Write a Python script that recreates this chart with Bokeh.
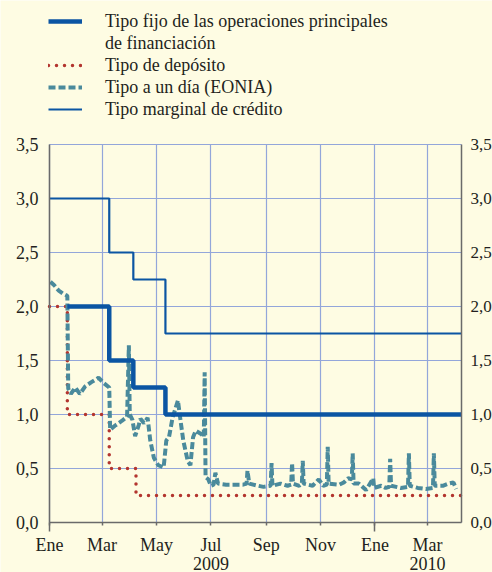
import pandas as pd
from bokeh.plotting import figure
from bokeh.models import (FixedTicker, LinearAxis, Legend, LegendItem, LabelSet,
                          ColumnDataSource, Range1d)
from bokeh.embed import file_html
from bokeh.resources import INLINE

# ---------------- data ----------------
x_start = "2009-01-01"
x_end = "2010-04-08"

tick_dates = ["2009-01-01", "2009-03-01", "2009-05-01", "2009-07-01",
              "2009-09-01", "2009-11-01", "2010-01-01", "2010-03-01"]
tick_labels = ["Ene", "Mar", "May", "Jul", "Sep", "Nov", "Ene", "Mar"]
year_dates = ["2009-01-01", "2010-01-01"]
year_label_dates = ["2009-07-01", "2010-03-01"]
year_labels = ["2009", "2010"]

y_ticks = [0.0, 0.5, 1.0, 1.5, 2.0, 2.5, 3.0, 3.5]
y_tick_labels = ["0,0", "0,5", "1,0", "1,5", "2,0", "2,5", "3,0", "3,5"]

mro_dates = ["2009-01-21", "2009-03-09", "2009-04-05", "2009-05-11", "2010-04-08"]
mro_vals = [2.0, 1.5, 1.25, 1.0, 1.0]

dep_dates = ["2009-01-01", "2009-01-21", "2009-03-09", "2009-04-08", "2010-04-08"]
dep_vals = [2.0, 1.0, 0.5, 0.25, 0.25]

mlf_dates = ["2009-01-01", "2009-03-09", "2009-04-05", "2009-05-11", "2010-04-08"]
mlf_vals = [3.0, 2.5, 2.25, 1.75, 1.75]

eonia_dates = [
    "2009-01-02", "2009-01-06", "2009-01-11", "2009-01-16", "2009-01-21", "2009-01-22",
    "2009-01-25", "2009-01-30", "2009-02-04", "2009-02-10", "2009-02-17", "2009-02-25",
    "2009-03-03", "2009-03-09", "2009-03-10", "2009-03-16", "2009-03-23", "2009-03-29",
    "2009-03-31", "2009-04-01", "2009-04-04", "2009-04-07", "2009-04-11", "2009-04-13",
    "2009-04-17", "2009-04-21", "2009-04-24", "2009-04-28", "2009-05-03", "2009-05-09",
    "2009-05-12", "2009-05-15", "2009-05-19", "2009-05-25", "2009-05-28", "2009-05-31",
    "2009-06-05", "2009-06-08", "2009-06-11", "2009-06-14", "2009-06-20", "2009-06-23",
    "2009-06-24", "2009-06-25", "2009-06-28", "2009-07-01", "2009-07-04", "2009-07-06",
    "2009-07-09", "2009-07-18", "2009-07-27", "2009-08-06", "2009-08-10", "2009-08-11",
    "2009-08-13", "2009-08-23", "2009-08-29", "2009-09-06", "2009-09-07", "2009-09-08",
    "2009-09-17", "2009-09-25", "2009-09-29", "2009-09-30", "2009-10-01", "2009-10-08",
    "2009-10-11", "2009-10-12", "2009-10-13", "2009-10-23", "2009-10-30", "2009-11-04",
    "2009-11-08", "2009-11-09", "2009-11-10", "2009-11-22", "2009-11-27", "2009-12-02",
    "2009-12-06", "2009-12-07", "2009-12-08", "2009-12-14", "2009-12-22", "2009-12-30",
    "2009-12-31", "2010-01-08", "2010-01-13", "2010-01-17", "2010-01-18", "2010-01-19",
    "2010-01-30", "2010-02-07", "2010-02-08", "2010-02-09", "2010-02-18", "2010-02-27",
    "2010-03-07", "2010-03-08", "2010-03-09", "2010-03-18", "2010-03-24", "2010-03-30",
    "2010-04-02",
]
eonia_vals = [
    2.23, 2.20, 2.15, 2.12, 2.10, 1.24,
    1.19, 1.25, 1.19, 1.26, 1.30, 1.34,
    1.29, 1.25, 0.86, 0.90, 0.94, 0.98,
    1.64, 1.00, 0.95, 0.80, 0.90, 0.96,
    0.92, 0.97, 0.76, 0.60, 0.53, 0.51,
    0.76, 0.79, 0.97, 1.13, 0.94, 0.76,
    0.57, 0.53, 0.79, 0.85, 0.82, 0.79,
    1.39, 0.42, 0.40, 0.34, 0.35, 0.46,
    0.36, 0.35, 0.35, 0.35, 0.36, 0.48,
    0.36, 0.34, 0.33, 0.34, 0.55, 0.34,
    0.36, 0.34, 0.35, 0.55, 0.36, 0.34,
    0.36, 0.57, 0.36, 0.34, 0.40, 0.34,
    0.35, 0.70, 0.36, 0.35, 0.37, 0.41,
    0.40, 0.64, 0.36, 0.36, 0.30, 0.41,
    0.32, 0.34, 0.32, 0.33, 0.59, 0.34,
    0.32, 0.33, 0.64, 0.34, 0.32, 0.31,
    0.32, 0.64, 0.34, 0.34, 0.36, 0.37,
    0.31,
]

# ---------------- styles / layout ----------------
BG = "#fefce3"
GRID = "#93a6da"
AXIS = "#6a6a6a"
TXT = "#231f20"
FONT = "Liberation Serif"
FS = "18px"
C_MRO = "#0b55a3"
C_DEP = "#b3352f"
C_EON = "#4a8a9c"

W, H = 492, 572
PLOT_L, PLOT_R, PLOT_T, PLOT_B = 49, 461, 144, 522   # pixel box of the chart area
YEAR_OFFSET = 47                                      # px below the x axis


def ms(d):
    return float(pd.Timestamp(d).value // 10**6)


def to_dt(lst):
    return pd.to_datetime(lst)


xs, xe = ms(x_start), ms(x_end)
ppx = (xe - xs) / (PLOT_R - PLOT_L)
y0, y1 = y_ticks[0], y_ticks[-1]
ppy = (y1 - y0) / (PLOT_B - PLOT_T)

p = figure(width=W, height=H, x_axis_type="datetime",
           x_range=Range1d(xs - PLOT_L * ppx, xe + (W - PLOT_R) * ppx),
           y_range=Range1d(y0 - (H - PLOT_B) * ppy, y1 + PLOT_T * ppy),
           output_backend="svg", toolbar_location=None,
           background_fill_color=BG, border_fill_color=BG,
           min_border_left=0, min_border_right=0,
           min_border_top=0, min_border_bottom=0)
p.outline_line_color = None
p.title.visible = False

# grid (limited to the chart box)
grid_ok = True
try:
    p.xgrid.cross_bounds = (y0, y1)
    p.ygrid.cross_bounds = (xs, xe)
except Exception:
    grid_ok = False

x_ticker = FixedTicker(ticks=[ms(d) for d in tick_dates],
                       minor_ticks=[ms(d) for d in year_dates])
y_ticker = FixedTicker(ticks=y_ticks, minor_ticks=[])

if grid_ok:
    p.xgrid.ticker = x_ticker
    p.ygrid.ticker = y_ticker
    p.xgrid.bounds = (xs, xe)
    p.ygrid.bounds = (y0, y1)
    for g in (p.xgrid[0], p.ygrid[0]):
        g.grid_line_color = GRID
        g.grid_line_width = 1.2
else:
    p.xgrid.visible = False
    p.ygrid.visible = False
    gx = to_dt(tick_dates)
    p.segment(x0=gx, y0=[y0] * len(gx), x1=gx, y1=[y1] * len(gx),
              line_color=GRID, line_width=1.2)
    p.segment(x0=[pd.Timestamp(x_start)] * len(y_ticks), y0=y_ticks,
              x1=[pd.Timestamp(x_end)] * len(y_ticks), y1=y_ticks,
              line_color=GRID, line_width=1.2)

# series
src_dep = ColumnDataSource(dict(x=to_dt(dep_dates), y=dep_vals))
src_eon = ColumnDataSource(dict(x=to_dt(eonia_dates), y=eonia_vals))
src_mlf = ColumnDataSource(dict(x=to_dt(mlf_dates), y=mlf_vals))
src_mro = ColumnDataSource(dict(x=to_dt(mro_dates), y=mro_vals))

r_dep = p.step("x", "y", source=src_dep, mode="after", line_color=C_DEP,
               line_width=3.5, line_dash="0 8", line_cap="round")
r_eon = p.line("x", "y", source=src_eon, line_color=C_EON, line_width=4,
               line_dash="7 3")
r_mlf = p.step("x", "y", source=src_mlf, mode="after", line_color=C_MRO,
               line_width=2.2)
r_mro = p.step("x", "y", source=src_mro, mode="after", line_color=C_MRO,
               line_width=4.5)
r_blank = p.step("x", "y", source=src_mro, mode="after", line_alpha=0)

# x axis
xa = p.xaxis[0]
xa.fixed_location = y0
xa.bounds = (xs, xe)
xa.ticker = x_ticker
xa.major_label_overrides = {ms(d): l for d, l in zip(tick_dates, tick_labels)}
xa.major_tick_out = 3
xa.major_tick_in = 0
xa.minor_tick_out = 9
xa.minor_tick_in = 0
xa.major_label_standoff = 3
xa.axis_line_color = AXIS
xa.axis_line_width = 1.5
xa.major_tick_line_color = AXIS
xa.minor_tick_line_color = AXIS
xa.major_tick_line_width = 1.5
xa.minor_tick_line_width = 1.5
xa.major_label_text_font = FONT
xa.major_label_text_font_size = FS
xa.major_label_text_color = TXT

# left y axis
ya = p.yaxis[0]
ya.fixed_location = xs
ya.bounds = (y0, y1)
ya.ticker = y_ticker
ya.major_label_overrides = {t: l for t, l in zip(y_ticks, y_tick_labels)}
ya.major_tick_out = 0
ya.major_tick_in = 0
ya.minor_tick_out = 0
ya.minor_tick_in = 0
ya.major_label_standoff = 11
ya.axis_line_color = AXIS
ya.axis_line_width = 1.5
ya.major_label_text_font = FONT
ya.major_label_text_font_size = FS
ya.major_label_text_color = TXT

# right y axis
ra = LinearAxis(ticker=y_ticker, fixed_location=xe, bounds=(y0, y1),
                major_label_overrides={t: l for t, l in zip(y_ticks, y_tick_labels)},
                major_tick_out=0, major_tick_in=0, minor_tick_out=0, minor_tick_in=0,
                major_label_standoff=9, axis_line_color=AXIS, axis_line_width=1.5,
                major_label_text_font=FONT, major_label_text_font_size="17px",
                major_label_text_color=TXT)
p.add_layout(ra, "right")

# year labels under the month labels
year_src = ColumnDataSource(dict(x=to_dt(year_label_dates), y=[y0, y0], t=year_labels))
p.add_layout(LabelSet(x="x", y="y", text="t", source=year_src, y_offset=-YEAR_OFFSET,
                      text_align="center", text_baseline="bottom",
                      text_font=FONT, text_font_size=FS, text_color=TXT))

# legend
legend = Legend(items=[
    LegendItem(label="Tipo fijo de las operaciones principales", renderers=[r_mro]),
    LegendItem(label="de financiación", renderers=[r_blank]),
    LegendItem(label="Tipo de depósito", renderers=[r_dep]),
    LegendItem(label="Tipo a un día (EONIA)", renderers=[r_eon]),
    LegendItem(label="Tipo marginal de crédito", renderers=[r_mlf]),
], location=(48, H - 120), glyph_width=34, glyph_height=22, label_height=22,
    label_standoff=23, spacing=0, padding=0, margin=0,
    border_line_color=None, background_fill_alpha=0,
    label_text_font=FONT, label_text_font_size=FS, label_text_color=TXT)
p.add_layout(legend)

open("out.html", "w").write(file_html(p, INLINE))
